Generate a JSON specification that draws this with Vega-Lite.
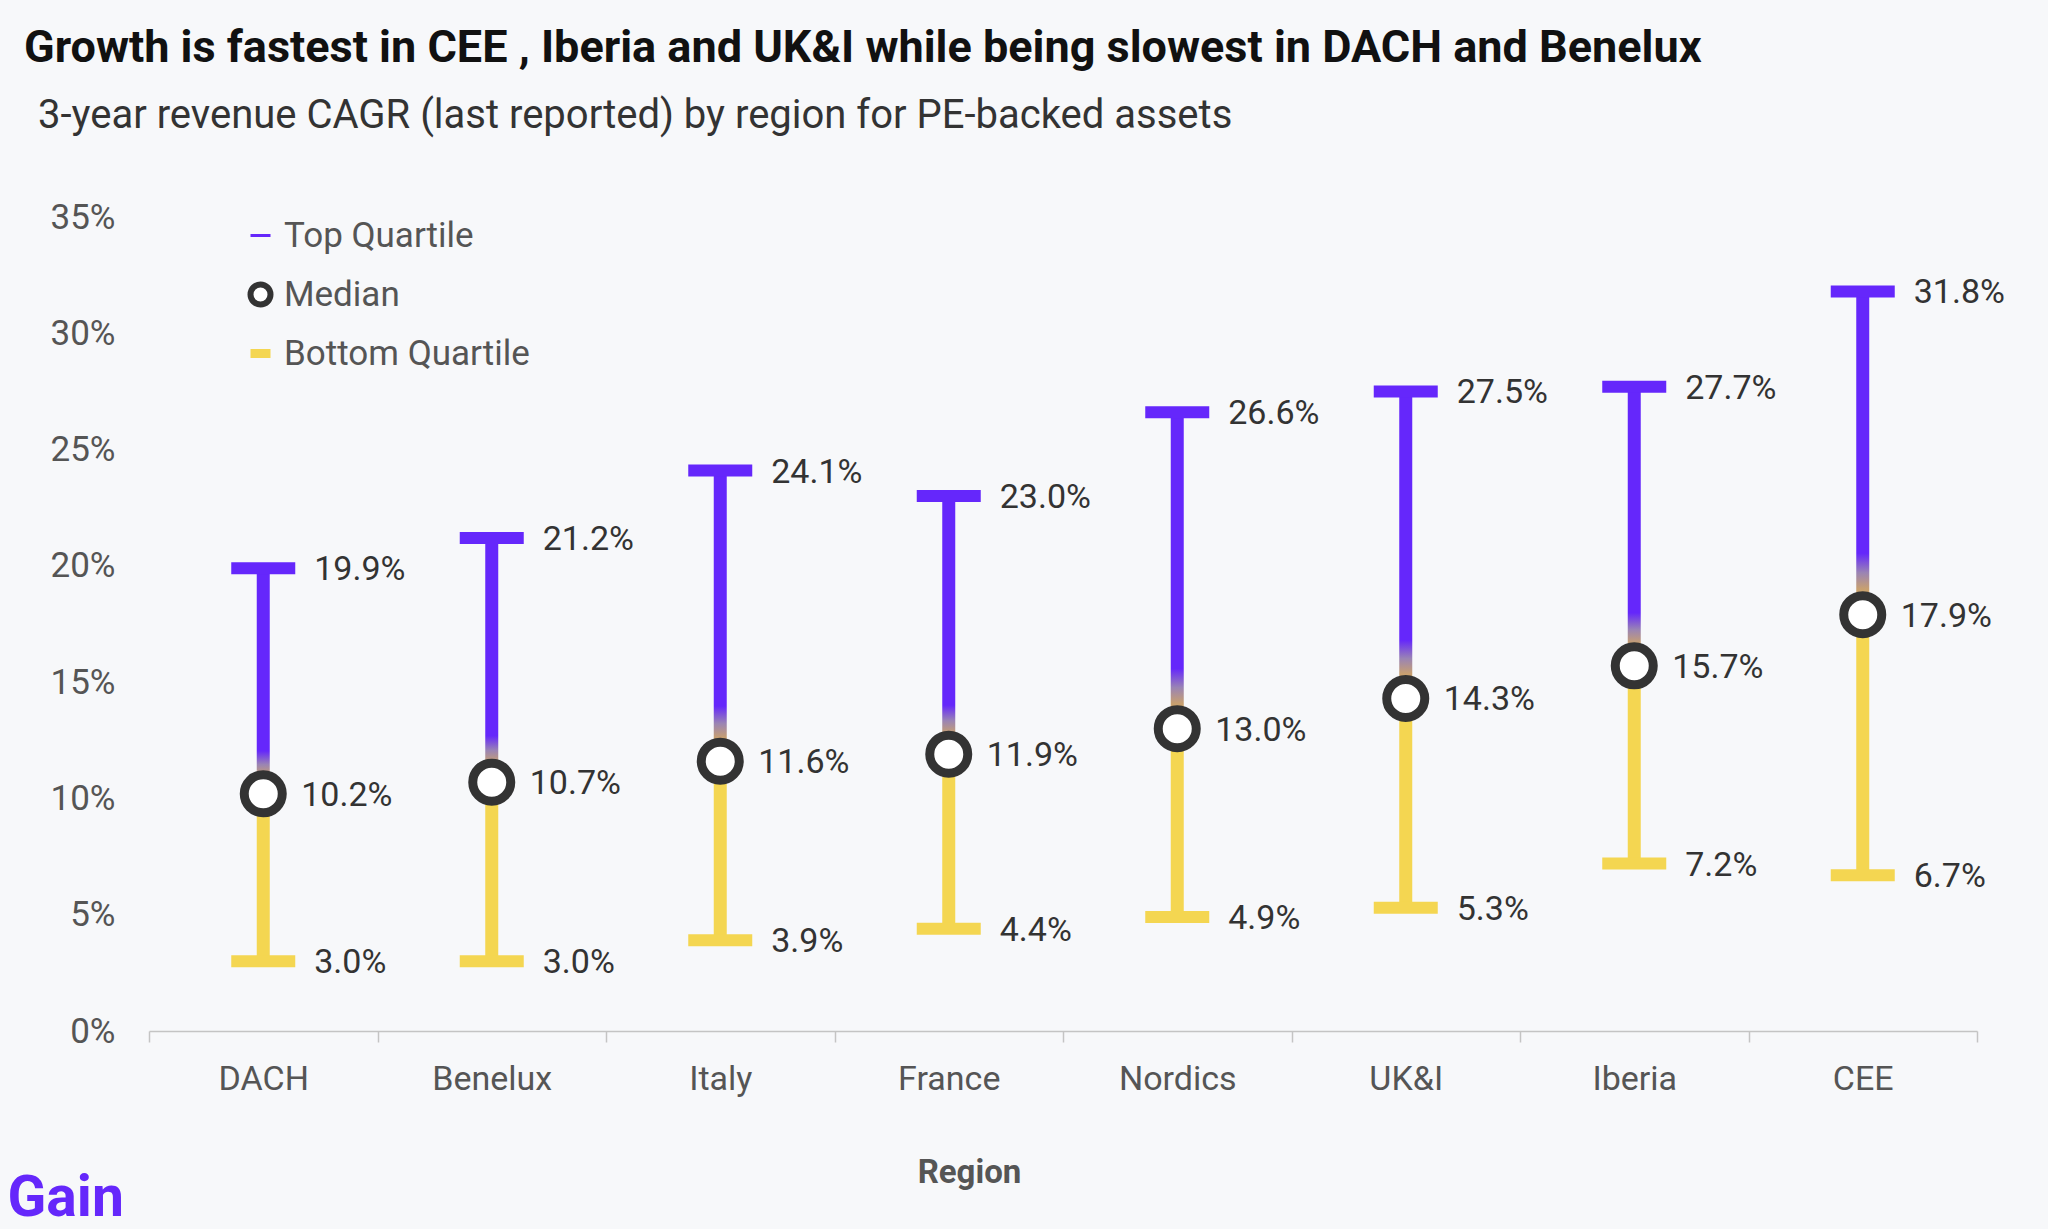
{
  "$schema": "https://vega.github.io/schema/vega-lite/v6.json",
  "width": 1828,
  "height": 814,
  "autosize": {"type": "none"},
  "padding": {"left": 149, "top": 217, "right": 71, "bottom": 198},
  "background": "#f7f8fa",
  "title": {
    "text": "Growth is fastest in CEE , Iberia and UK&I while being slowest in DACH and Benelux",
    "subtitle": "\u200b\u00a0\u200a3-year revenue CAGR (last reported) by region for PE-backed assets",
    "anchor": "start",
    "frame": "group",
    "dx": -125,
    "offset": 64,
    "font": "Roboto",
    "fontSize": 45,
    "fontWeight": "bold",
    "color": "#111111",
    "subtitleFont": "Roboto",
    "subtitleFontSize": 40,
    "subtitleColor": "#333333",
    "subtitlePadding": 25
  },
  "config": {
    "view": {"stroke": null},
    "font": "Roboto",
    "axisY": {
      "grid": false,
      "domain": false,
      "ticks": false,
      "tickSize": 0,
      "labelPadding": 34,
      "labelFont": "Roboto",
      "labelFontSize": 35,
      "labelColor": "#555555",
      "titleAngle": 0,
      "titleX": -142,
      "titleY": 998,
      "titleAlign": "left",
      "titleBaseline": "alphabetic",
      "titleFont": "Roboto",
      "titleFontWeight": "bold",
      "titleFontSize": 57,
      "titleColor": "#6527fb"
    },
    "axisX": {
      "grid": false,
      "domainColor": "#c4c4c4",
      "domainWidth": 1.5,
      "tickColor": "#c4c4c4",
      "tickWidth": 1.5,
      "tickSize": 11,
      "tickBand": "extent",
      "labelAngle": 0,
      "labelPadding": 20,
      "labelFont": "Roboto",
      "labelFontSize": 34,
      "labelColor": "#555555",
      "titleFont": "Roboto",
      "titleFontWeight": "bold",
      "titleFontSize": 33,
      "titleColor": "#555555",
      "titleX": 820,
      "titleY": 141,
      "titleBaseline": "middle"
    },
    "legend": {
      "title": null,
      "orient": "none",
      "legendX": 94,
      "legendY": 1,
      "padding": 0,
      "symbolSize": 400,
      "symbolStrokeWidth": 3,
      "labelFont": "Roboto",
      "labelFontSize": 35,
      "labelColor": "#555555",
      "labelOffset": 6,
      "labelLimit": 500,
      "rowPadding": 18
    }
  },
  "data": {
    "values": [
      {"Region": "DACH", "Top Quartile": 0.199, "Median": 0.102, "Bottom Quartile": 0.030},
      {"Region": "Benelux", "Top Quartile": 0.212, "Median": 0.107, "Bottom Quartile": 0.030},
      {"Region": "Italy", "Top Quartile": 0.241, "Median": 0.116, "Bottom Quartile": 0.039},
      {"Region": "France", "Top Quartile": 0.230, "Median": 0.119, "Bottom Quartile": 0.044},
      {"Region": "Nordics", "Top Quartile": 0.266, "Median": 0.130, "Bottom Quartile": 0.049},
      {"Region": "UK&I", "Top Quartile": 0.275, "Median": 0.143, "Bottom Quartile": 0.053},
      {"Region": "Iberia", "Top Quartile": 0.277, "Median": 0.157, "Bottom Quartile": 0.072},
      {"Region": "CEE", "Top Quartile": 0.318, "Median": 0.179, "Bottom Quartile": 0.067}
    ]
  },
  "encoding": {
    "x": {
      "field": "Region",
      "type": "nominal",
      "title": "Region",
      "sort": ["DACH", "Benelux", "Italy", "France", "Nordics", "UK&I", "Iberia", "CEE"],
      "scale": {"paddingInner": 0, "paddingOuter": 0}
    }
  },
  "layer": [
    {
      "transform": [{"fold": ["Top Quartile", "Median", "Bottom Quartile"], "as": ["series", "value"]}],
      "mark": {"type": "point", "filled": false, "fill": "white", "size": 342, "opacity": 1},
      "encoding": {
        "y": {
          "field": "value", "type": "quantitative", "title": "Gain",
          "scale": {"domain": [0, 0.35], "nice": false},
          "axis": {"values": [0, 0.05, 0.1, 0.15, 0.2, 0.25, 0.3, 0.35], "format": ".0%"}
        },
        "shape": {
          "field": "series", "type": "nominal",
          "scale": {"domain": ["Top Quartile", "Median", "Bottom Quartile"], "range": ["stroke", "circle", "stroke"]}
        },
        "stroke": {
          "field": "series", "type": "nominal",
          "scale": {"domain": ["Top Quartile", "Median", "Bottom Quartile"], "range": ["#6527fb", "#333333", "#f4d651"]}
        },
        "strokeWidth": {
          "field": "series", "type": "nominal",
          "scale": {"domain": ["Top Quartile", "Median", "Bottom Quartile"], "range": [3, 9, 3]}
        }
      }
    },
    {
      "mark": {"type": "rule", "strokeWidth": 13, "color": "#f4d651"},
      "encoding": {
        "y": {"field": "Bottom Quartile", "type": "quantitative", "title": "Gain", "scale": {"domain": [0, 0.35], "nice": false}},
        "y2": {"field": "Median"}
      }
    },
    {
      "mark": {
        "type": "bar",
        "width": 13,
        "color": {
          "gradient": "linear",
          "x1": 0, "y1": 1, "x2": 0, "y2": 0,
          "stops": [
            {"offset": 0, "color": "#d8b45c"},
            {"offset": 0.08, "color": "#c8a070"},
            {"offset": 0.13, "color": "#9a84b4"},
            {"offset": 0.19, "color": "#6527fb"},
            {"offset": 1, "color": "#6527fb"}
          ]
        }
      },
      "encoding": {
        "y": {"field": "Median", "type": "quantitative", "title": "Gain", "scale": {"domain": [0, 0.35], "nice": false}},
        "y2": {"field": "Top Quartile"}
      }
    },
    {
      "mark": {"type": "tick", "orient": "horizontal", "size": 64, "thickness": 12, "color": "#6527fb", "opacity": 1},
      "encoding": {
        "y": {"field": "Top Quartile", "type": "quantitative", "title": "Gain", "scale": {"domain": [0, 0.35], "nice": false}}
      }
    },
    {
      "mark": {"type": "tick", "orient": "horizontal", "size": 64, "thickness": 12, "color": "#f4d651", "opacity": 1},
      "encoding": {
        "y": {"field": "Bottom Quartile", "type": "quantitative", "title": "Gain", "scale": {"domain": [0, 0.35], "nice": false}}
      }
    },
    {
      "mark": {"type": "point", "shape": "circle", "size": 1444, "strokeWidth": 9, "stroke": "#333333", "fill": "white", "filled": false, "opacity": 1},
      "encoding": {
        "y": {"field": "Median", "type": "quantitative", "title": "Gain", "scale": {"domain": [0, 0.35], "nice": false}}
      }
    },
    {
      "transform": [
        {"fold": ["Top Quartile", "Median", "Bottom Quartile"], "as": ["series", "value"]},
        {"filter": "datum.series !== 'Median'"}
      ],
      "mark": {"type": "text", "align": "left", "baseline": "middle", "dx": 51, "dy": 2, "font": "Roboto", "fontSize": 34, "color": "#333333"},
      "encoding": {
        "y": {"field": "value", "type": "quantitative", "title": "Gain", "scale": {"domain": [0, 0.35], "nice": false}},
        "text": {"field": "value", "type": "quantitative", "format": ".1%"}
      }
    },
    {
      "transform": [
        {"fold": ["Top Quartile", "Median", "Bottom Quartile"], "as": ["series", "value"]},
        {"filter": "datum.series === 'Median'"}
      ],
      "mark": {"type": "text", "align": "left", "baseline": "middle", "dx": 38, "dy": 2, "font": "Roboto", "fontSize": 34, "color": "#333333"},
      "encoding": {
        "y": {"field": "value", "type": "quantitative", "title": "Gain", "scale": {"domain": [0, 0.35], "nice": false}},
        "text": {"field": "value", "type": "quantitative", "format": ".1%"}
      }
    }
  ]
}
